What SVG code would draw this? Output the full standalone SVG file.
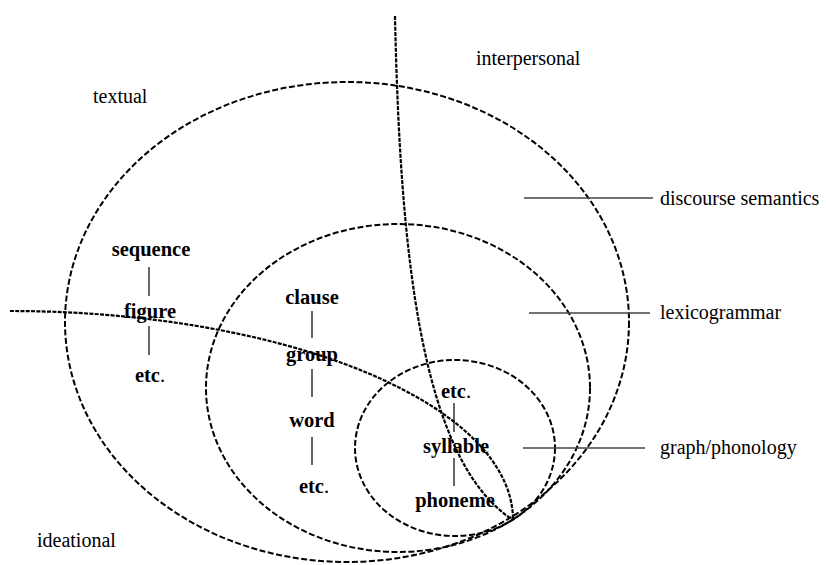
<svg xmlns="http://www.w3.org/2000/svg" width="826" height="565" viewBox="0 0 826 565">
<style>
.bg{fill:#fff}
.ell{fill:none;stroke:#000;stroke-width:2;stroke-dasharray:6 2.5}
.div{fill:none;stroke:#000;stroke-width:2.2;stroke-dasharray:4 1.3}
.lead{stroke:#444;stroke-width:1.4}
.tick{stroke:#000;stroke-width:1.2}
.lab{font-family:"Liberation Serif","Times New Roman",serif;font-size:20px;fill:#000}
.unit{font-family:"Liberation Serif","Times New Roman",serif;font-size:20.5px;font-weight:bold;fill:#000;text-anchor:middle}
.dot{font-weight:normal}
</style>
<rect class="bg" x="0" y="0" width="826" height="565"/>
<g id="strata">
  <ellipse id="discourse-semantics-ring" class="ell" cx="347" cy="322" rx="282" ry="240"/>
  <ellipse id="lexicogrammar-ring" class="ell" cx="398" cy="388" rx="192" ry="164"/>
  <ellipse id="phonology-ring" class="ell" cx="455" cy="448" rx="100" ry="88"/>
</g>
<g id="connectors">
  <path id="textual-ideational-divider" class="div" d="M10,311 A503,209 0 0 1 513,520"/>
  <path id="textual-interpersonal-divider" class="div" d="M395,16 C400,250 420,460 513,520"/>
  <line class="lead" x1="524" y1="198" x2="653" y2="198"/>
  <line class="lead" x1="529" y1="313" x2="650" y2="313"/>
  <line class="lead" x1="523" y1="448" x2="645" y2="448"/>
  <line class="tick" x1="149" y1="267" x2="149" y2="296"/>
  <line class="tick" x1="149" y1="326" x2="149" y2="355"/>
  <line class="tick" x1="312" y1="311" x2="312" y2="338"/>
  <line class="tick" x1="312" y1="369" x2="312" y2="397"/>
  <line class="tick" x1="312" y1="437" x2="312" y2="465"/>
  <line class="tick" x1="454" y1="403" x2="454" y2="432"/>
  <line class="tick" x1="454" y1="458" x2="454" y2="486"/>
</g>
<g id="metafunctions">
  <text class="lab" x="476" y="65">interpersonal</text>
  <text class="lab" x="93" y="103">textual</text>
  <text class="lab" x="37" y="547">ideational</text>
</g>
<g id="stratum-labels">
  <text class="lab" x="660" y="205">discourse semantics</text>
  <text class="lab" x="660" y="319">lexicogrammar</text>
  <text class="lab" x="660" y="454">graph/phonology</text>
</g>
<g id="semantic-units">
  <text class="unit" x="151" y="256">sequence</text>
  <text class="unit" x="150" y="318">figure</text>
  <text class="unit" x="150" y="382">etc<tspan class="dot">.</tspan></text>
</g>
<g id="grammar-units">
  <text class="unit" x="312" y="304">clause</text>
  <text class="unit" x="312" y="361">group</text>
  <text class="unit" x="312" y="427">word</text>
  <text class="unit" x="314" y="493">etc<tspan class="dot">.</tspan></text>
</g>
<g id="phonology-units">
  <text class="unit" x="456" y="398">etc<tspan class="dot">.</tspan></text>
  <text class="unit" x="456" y="453">syllable</text>
  <text class="unit" x="455" y="507">phoneme</text>
</g>
</svg>
